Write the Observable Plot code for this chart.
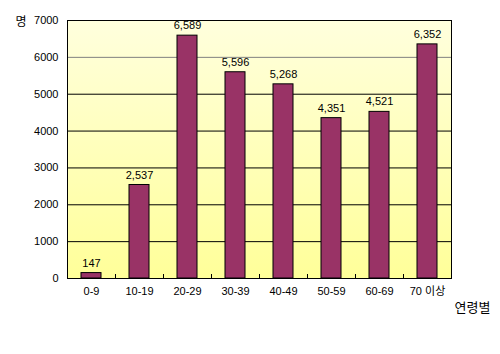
<!DOCTYPE html>
<html><head><meta charset="utf-8">
<script src="https://cdn.jsdelivr.net/npm/d3@7"></script>
<script src="https://cdn.jsdelivr.net/npm/@observablehq/plot@0.6"></script>
<style>body{margin:0;background:#fff}#c{width:500px;height:354px}</style>
</head><body><div id="c"></div>
<script>
const categories = ["0-9","10-19","20-29","30-39","40-49","50-59","60-69","70 이상"];
const values = [147, 2537, 6589, 5596, 5268, 4351, 4521, 6352];
const yTicks = [0,1000,2000,3000,4000,5000,6000,7000];
const data = categories.map((c,i)=>({cat:c, v:values[i]}));
const FONT = "'Liberation Sans','Noto Sans CJK KR',sans-serif";

const chart = Plot.plot({
  width: 500, height: 354,
  marginLeft: 67, marginRight: 49, marginTop: 20, marginBottom: 76,
  style: {fontFamily: FONT, fontSize: "11px", color: "#000", background: "#fff"},
  x: {domain: categories, paddingInner: 0.58, paddingOuter: 0.29, label: null, tickSize: 0, tickPadding: 9},
  y: {domain: [0,7000], ticks: yTicks, label: null, tickSize: 0, tickPadding: 9, tickFormat: d=>String(d)},
  marks: [
    Plot.frame({fill: "url(#bgGrad)", stroke: null}),
    Plot.ruleY(yTicks.filter(t=>t>0 && t<7000), {stroke: d => d >= 6000 ? "#808080" : "#000", strokeWidth: 1, strokeOpacity: 1}),
    Plot.barY(data, {x: "cat", y: "v", fill: "#993366", stroke: "#000", strokeWidth: 1}),
    Plot.text(data, {x: "cat", y: "v", text: d=>d3.format(",")(d.v), dy: -10, fontSize: 11, fill: "#000"}),
    Plot.tickX(categories, {x: d=>d, dx: 24, insetTop: 254, stroke: "#000"}),
    Plot.frame({stroke: "#000", strokeWidth: 1}),
    Plot.text(["명"], {frameAnchor: "top-left", dx: -52, dy: -3, fontSize: 12, fill: "#000"}),
    Plot.text(["연령별"], {frameAnchor: "bottom-right", dx: 39, dy: 33, fontSize: 13, fill: "#000"})
  ]
});
const svg = d3.select(chart);
const defs = svg.insert("defs", ":first-child");
const g = defs.append("linearGradient").attr("id","bgGrad").attr("x1",0).attr("y1",0).attr("x2",0).attr("y2",1);
g.append("stop").attr("offset","0%").attr("stop-color","#FFFFDD");
g.append("stop").attr("offset","100%").attr("stop-color","#FFFF99");
document.getElementById("c").appendChild(chart);
</script>
</body></html>
